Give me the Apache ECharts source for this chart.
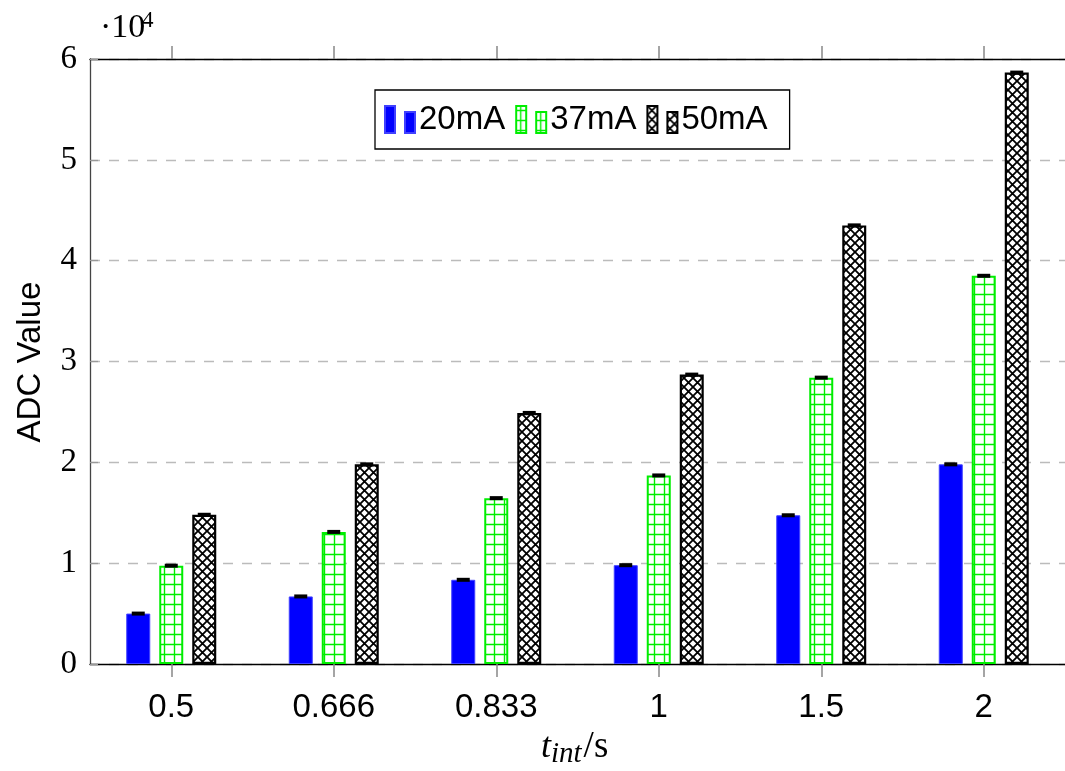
<!DOCTYPE html>
<html>
<head>
<meta charset="utf-8">
<script src="https://cdn.jsdelivr.net/npm/echarts@6/dist/echarts.min.js"></script>
<style>html,body{margin:0;padding:0;background:#fff}#c{width:1065px;height:771px}</style>
</head>
<body>
<div id="c"></div>
<script>
const categories = ['0.5', '0.666', '0.833', '1', '1.5', '2'];
const seriesNames = ['20mA', '37mA', '50mA'];
const v20 = [5000, 6700, 8350, 9800, 14750, 19800];
const v37 = [9750, 13100, 16450, 18700, 28400, 38500];
const v50 = [14800, 19800, 24900, 28700, 43500, 58650];
const e20 = [120, 120, 120, 120, 120, 120];
const e37 = [120, 120, 120, 120, 120, 120];
const e50 = [120, 120, 120, 120, 120, 150];
const yTicks = [0, 1, 2, 3, 4, 5, 6];

function gridPattern() {
  const c = document.createElement('canvas');
  c.width = 10; c.height = 10;
  const g = c.getContext('2d');
  g.fillStyle = '#fff'; g.fillRect(0, 0, 10, 10);
  g.strokeStyle = '#00ee00'; g.lineWidth = 1.4;
  g.beginPath();
  g.moveTo(4.5, 0); g.lineTo(4.5, 10);
  g.moveTo(0, 4.5); g.lineTo(10, 4.5);
  g.stroke();
  return c;
}
function crossPattern() {
  const c = document.createElement('canvas');
  c.width = 9; c.height = 9;
  const g = c.getContext('2d');
  g.fillStyle = '#fff'; g.fillRect(0, 0, 9, 9);
  g.strokeStyle = '#000'; g.lineWidth = 1.8;
  g.beginPath();
  g.moveTo(-1, -1); g.lineTo(10, 10);
  g.moveTo(10, -1); g.lineTo(-1, 10);
  g.stroke();
  return c;
}

const chart = echarts.init(document.getElementById('c'), null, {renderer: 'canvas'});
const BW = 24, GAP = 9;
const icon = 'path://M0,0H10V27H0Z M20,6H30V27H20Z';

function errSeries(name, vals, errs, offset) {
  return {
    type: 'custom', name: name + '_err', z: 10, silent: true,
    data: vals.map((v, i) => [i, v, errs[i]]),
    renderItem: function (params, api) {
      const i = api.value(0), v = api.value(1), e = api.value(2);
      const top = api.coord([i, v + e]);
      const bot = api.coord([i, v - e]);
      const x = top[0] + offset;
      const h = Math.max(bot[1] - top[1], 3);
      return {
        type: 'rect',
        shape: {x: x - 6.5, y: (top[1] + bot[1]) / 2 - h / 2 - 0.5, width: 13, height: h + 1},
        style: {fill: '#000'}
      };
    }
  };
}

const option = {
  animation: false,
  grid: {left: 90, top: 59, width: 982, height: 605},
  legend: {
    data: seriesNames,
    left: 375, top: 90,
    orient: 'horizontal',
    padding: [13, 22, 13, 9],
    borderColor: '#000', borderWidth: 1.3,
    itemWidth: 30, itemHeight: 27, itemGap: 10,
    icon: icon,
    textStyle: {fontFamily: 'Liberation Sans', fontSize: 33, color: '#000', padding: [0, 0, 0, -1]}
  },
  xAxis: [{
    type: 'category', data: categories, position: 'bottom',
    axisLine: {lineStyle: {color: '#000', width: 1.3}},
    axisTick: {show: true, alignWithLabel: true, length: 13, lineStyle: {color: '#888', width: 1.5}},
    axisLabel: {fontFamily: 'Liberation Sans', fontSize: 33, color: '#000', margin: 27}
  }, {
    type: 'category', data: categories, position: 'top',
    axisLine: {lineStyle: {color: '#000', width: 1.3}},
    axisTick: {show: true, alignWithLabel: true, length: 13, lineStyle: {color: '#888', width: 1.5}},
    axisLabel: {show: false}
  }],
  yAxis: {
    type: 'value', min: 0, max: 60000, interval: 10000,
    axisLine: {show: true, lineStyle: {color: '#444', width: 1.3}},
    axisTick: {show: true, inside: true, length: 8, lineStyle: {color: '#999', width: 1.3}},
    splitLine: {show: true, lineStyle: {color: '#bbb', width: 1.3, type: [10, 9]}},
    axisLabel: {
      fontFamily: 'Liberation Serif', fontSize: 33, color: '#000', margin: 13,
      formatter: function (v) { return String(yTicks[Math.round(v / 10000)]); }
    }
  },
  graphic: [
    {type: 'text', left: 100, top: 11, style: {text: '·10', font: '34px "Liberation Serif"', fill: '#000'}},
    {type: 'text', left: 142, top: 9, style: {text: '4', font: '23px "Liberation Serif"', fill: '#000'}},
    {type: 'text', x: 14, y: 362, rotation: Math.PI / 2,
      style: {text: 'ADC Value', font: '33px "Liberation Sans"', fill: '#000', align: 'center', verticalAlign: 'top'}},
    {type: 'text', left: 541, top: 729, style: {
      text: '{t|t}{s|int}{n|/s}',
      rich: {
        t: {font: 'italic 36px "Liberation Serif"', fill: '#000'},
        s: {font: 'italic 29px "Liberation Serif"', fill: '#000', padding: [14, 2, 0, 0]},
        n: {font: '37px "Liberation Serif"', fill: '#000'}
      }
    }}
  ],
  series: [
    {name: '20mA', type: 'bar', data: v20, barWidth: BW, barGap: (GAP / BW * 100) + '%',
      itemStyle: {color: '#0000ff', borderColor: '#4040ff', borderWidth: 1}},
    {name: '37mA', type: 'bar', data: v37, barWidth: BW,
      itemStyle: {color: {image: gridPattern(), repeat: 'repeat'}, borderColor: '#00ee00', borderWidth: 2}},
    {name: '50mA', type: 'bar', data: v50, barWidth: BW,
      itemStyle: {color: {image: crossPattern(), repeat: 'repeat'}, borderColor: '#000', borderWidth: 2.2}},
    errSeries('20mA', v20, e20, -(BW + GAP)),
    errSeries('37mA', v37, e37, 0),
    errSeries('50mA', v50, e50, BW + GAP)
  ]
};
chart.setOption(option);
</script>
</body>
</html>
